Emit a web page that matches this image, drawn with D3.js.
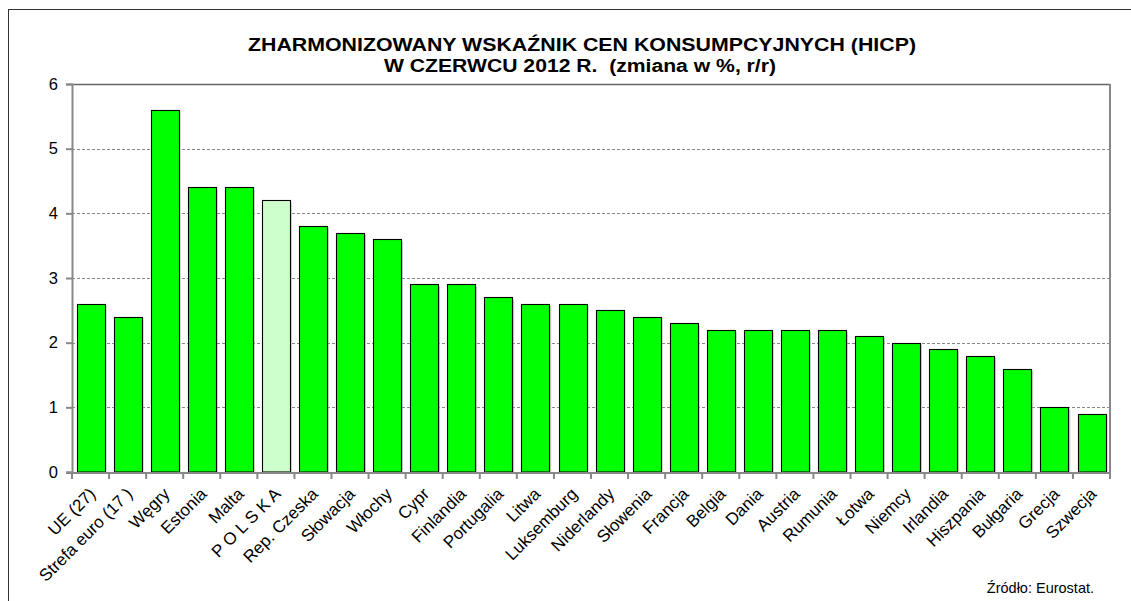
<!DOCTYPE html>
<html>
<head>
<meta charset="utf-8">
<script src="https://cdn.jsdelivr.net/npm/d3@7"></script>
<style>
  html, body { margin: 0; padding: 0; background: #fff; }
  svg { display: block; font-family: Arial, "Liberation Sans", sans-serif; }
</style>
</head>
<body>
<svg id="chart" width="1131" height="601"></svg>
<script>
// HICP, June 2012, % change y/y
const countries = ["UE (27)", "Strefa euro (17 )", "Węgry", "Estonia", "Malta", "P O L S K A",
  "Rep. Czeska", "Słowacja", "Włochy", "Cypr", "Finlandia", "Portugalia", "Litwa", "Luksemburg",
  "Niderlandy", "Słowenia", "Francja", "Belgia", "Dania", "Austria", "Rumunia", "Łotwa",
  "Niemcy", "Irlandia", "Hiszpania", "Bułgaria", "Grecja", "Szwecja"];
const values = [2.6, 2.4, 5.6, 4.4, 4.4, 4.2, 3.8, 3.7, 3.6, 2.9, 2.9, 2.7, 2.6, 2.6,
  2.5, 2.4, 2.3, 2.2, 2.2, 2.2, 2.2, 2.1, 2.0, 1.9, 1.8, 1.6, 1.0, 0.9];
const highlighted = ["P O L S K A"];
const yTicks = [0, 1, 2, 3, 4, 5, 6];
const titleLines = ["ZHARMONIZOWANY WSKAŹNIK CEN KONSUMPCYJNYCH (HICP)",
  "W CZERWCU 2012 R.  (zmiana w %, r/r)"];
const sourceText = "Źródło: Eurostat.";

const svg = d3.select("#chart");
const plot = { left: 72, right: 1110, top: 84, bottom: 472 };

// outer chart frame
svg.append("rect")
  .attr("x", 8.5).attr("y", 9.5).attr("width", 1140).attr("height", 620)
  .attr("fill", "#fff").attr("stroke", "#333").attr("stroke-width", 1);

const x = d3.scaleBand().domain(countries).range([plot.left, plot.right])
  .paddingInner(0.25).paddingOuter(0.125);
const y = d3.scaleLinear().domain([0, 6]).range([plot.bottom, plot.top]);

// title (two centred lines)
const titleSpans = [{ x: 582, y: 51, len: 668 }, { x: 580, y: 72, len: 392 }];
svg.append("g").selectAll("text").data(titleLines).join("text")
  .attr("x", (d, i) => titleSpans[i].x).attr("y", (d, i) => titleSpans[i].y)
  .attr("text-anchor", "middle").attr("font-weight", "bold").attr("font-size", 18)
  .attr("textLength", (d, i) => titleSpans[i].len).attr("lengthAdjust", "spacingAndGlyphs")
  .attr("fill", "#000").attr("xml:space", "preserve").text(d => d);

// gridlines
svg.append("g").selectAll("line").data(yTicks.filter(t => t > 0 && t < 6)).join("line")
  .attr("x1", plot.left).attr("x2", plot.right)
  .attr("y1", d => Math.round(y(d)) + 0.5).attr("y2", d => Math.round(y(d)) + 0.5)
  .attr("stroke", "#888").attr("stroke-dasharray", "3,2").attr("stroke-width", 1);

// plot frame: top and right
svg.append("line").attr("x1", plot.left).attr("x2", plot.right)
  .attr("y1", plot.top + 0.5).attr("y2", plot.top + 0.5).attr("stroke", "#666").attr("stroke-width", 1.5);
svg.append("line").attr("x1", plot.right).attr("x2", plot.right)
  .attr("y1", plot.top).attr("y2", plot.bottom).attr("stroke", "#888").attr("stroke-width", 2);

// bars with a soft offset shadow
const bars = svg.append("g");
bars.selectAll("rect.shadow").data(countries).join("rect").attr("class", "shadow")
  .attr("x", d => x(d) + 2).attr("y", (d, i) => y(values[i]) + 2)
  .attr("width", x.bandwidth()).attr("height", (d, i) => plot.bottom - y(values[i]) - 2)
  .attr("fill", "#999").attr("opacity", 0.5);
bars.selectAll("rect.bar").data(countries).join("rect").attr("class", "bar")
  .attr("x", d => Math.round(x(d)) + 0.5).attr("y", (d, i) => Math.round(y(values[i])) + 0.5)
  .attr("width", Math.round(x.bandwidth()))
  .attr("height", (d, i) => plot.bottom - Math.round(y(values[i])) - 0.5)
  .attr("fill", d => highlighted.includes(d) ? "#CCFFCC" : "#00FF00")
  .attr("stroke", "#000").attr("stroke-width", 1.1);

// y axis
const yAxis = svg.append("g").attr("transform", `translate(${plot.left},0)`)
  .call(d3.axisLeft(y).tickValues(yTicks).tickFormat(d3.format("d")).tickSize(6).tickPadding(8));
yAxis.select(".domain").attr("stroke", "#888").attr("stroke-width", 2);
yAxis.selectAll(".tick line").attr("stroke", "#888").attr("stroke-width", 2);
yAxis.selectAll(".tick text").attr("font-size", 16.5).attr("fill", "#000")
  .attr("font-family", "Arial, 'Liberation Sans', sans-serif");

// x axis with ticks at category boundaries
const boundaries = d3.range(countries.length + 1).map(i => plot.left + i * (plot.right - plot.left) / countries.length);
const xg = svg.append("g");
xg.append("line").attr("x1", plot.left - 6).attr("x2", plot.right + 1)
  .attr("y1", plot.bottom + 1).attr("y2", plot.bottom + 1).attr("stroke", "#888").attr("stroke-width", 2);
xg.selectAll("line.tick").data(boundaries).join("line").attr("class", "tick")
  .attr("x1", d => d).attr("x2", d => d).attr("y1", plot.bottom).attr("y2", plot.bottom + 7)
  .attr("stroke", "#888").attr("stroke-width", 2);
// slanted category names
xg.selectAll("text").data(countries).join("text")
  .attr("transform", d => `translate(${x(d) + x.bandwidth() / 2 + 6},${plot.bottom + 23}) rotate(-45)`)
  .attr("text-anchor", "end").attr("font-size", 17).attr("fill", "#000")
  .attr("xml:space", "preserve")
  .text(d => d);

// source note
svg.append("text").attr("x", 1094).attr("y", 593).attr("text-anchor", "end")
  .attr("font-size", 14.5).attr("fill", "#000").text(sourceText);
</script>
</body>
</html>
